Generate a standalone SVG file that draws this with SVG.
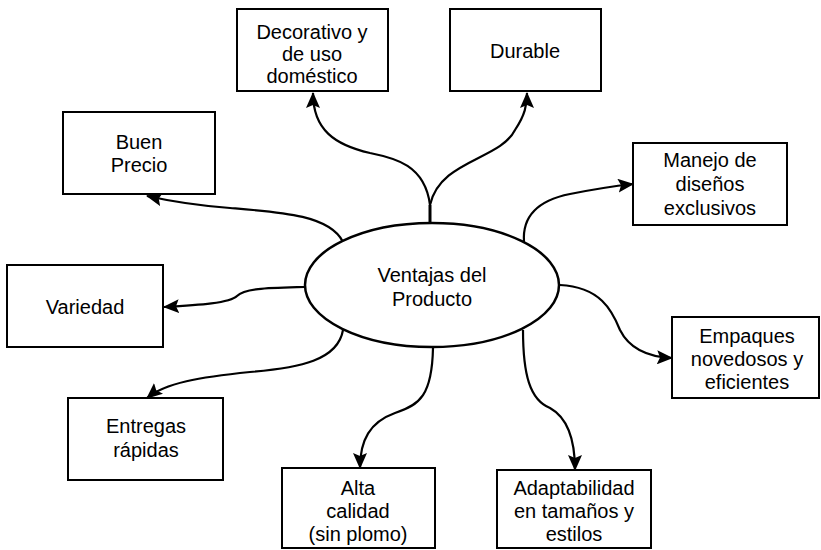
<svg xmlns="http://www.w3.org/2000/svg" width="821" height="550" viewBox="0 0 821 550">
<style>
.box{fill:#fff;stroke:#000;stroke-width:2}
.t{font-family:"Liberation Sans",Arial,sans-serif;font-size:20px;fill:#000;text-anchor:middle}
.c{fill:none;stroke:#000;stroke-width:2.2;marker-end:url(#ah)}
</style>
<defs>
<marker id="ah" markerUnits="userSpaceOnUse" markerWidth="16" markerHeight="14" viewBox="0 0 16 14" refX="15" refY="7" orient="auto">
<path d="M0,0 L16,7 L0,14 L3,7 Z" fill="#000"/>
</marker>
</defs>
<rect width="821" height="550" fill="#fff"/>
<g id="connectors">
<path class="c" d="M430,205 C425,165 395,158 370,153 C335,145 313,130 313,93"/>
<path class="c" d="M430,205 C440,160 500,160 515,130 C525,115 527,105 527,93"/>
<path d="M430,205 L430,223" fill="none" stroke="#000" stroke-width="3"/>
<path class="c" d="M343,242 C330,215 280,212 230,208 C190,205 165,200 147,196"/>
<path class="c" d="M305,287 C270,288 245,288 237,296 C230,303 200,305 164,307"/>
<path class="c" d="M524,242 C522,215 540,200 570,194 C595,189 615,186 633,184"/>
<path class="c" d="M560,285 C600,287 612,310 620,330 C630,350 650,357 672,358"/>
<path class="c" d="M343,330 C338,360 300,368 250,372 C200,377 165,383 147,398"/>
<path class="c" d="M433,348 C432,395 420,405 395,413 C370,422 360,440 360,468"/>
<path class="c" d="M523,330 C523,375 530,400 550,408 C568,418 575,440 575,470"/>
</g>
<g id="center">
<ellipse cx="432" cy="285" rx="127" ry="62" fill="#fff" stroke="#000" stroke-width="2.5"/>
<text class="t" x="432" y="282">Ventajas del</text>
<text class="t" x="432" y="306">Producto</text>
</g>
<g id="decorativo">
<rect class="box" x="237" y="9" width="151" height="82"/>
<text class="t" x="312" y="39">Decorativo y</text>
<text class="t" x="312" y="61">de uso</text>
<text class="t" x="312" y="83">doméstico</text>
</g>
<g id="durable">
<rect class="box" x="450" y="9" width="151" height="82"/>
<text class="t" x="525" y="58">Durable</text>
</g>
<g id="buenprecio">
<rect class="box" x="63" y="112" width="152" height="82"/>
<text class="t" x="139" y="149">Buen</text>
<text class="t" x="139" y="172">Precio</text>
</g>
<g id="manejo">
<rect class="box" x="633" y="143" width="154" height="82"/>
<text class="t" x="710" y="167">Manejo de</text>
<text class="t" x="710" y="191">diseños</text>
<text class="t" x="710" y="215">exclusivos</text>
</g>
<g id="variedad">
<rect class="box" x="7" y="265" width="156" height="82"/>
<text class="t" x="85" y="314">Variedad</text>
</g>
<g id="empaques">
<rect class="box" x="672" y="317" width="147" height="81"/>
<text class="t" x="747" y="343">Empaques</text>
<text class="t" x="747" y="366">novedosos y</text>
<text class="t" x="747" y="389">eficientes</text>
</g>
<g id="entregas">
<rect class="box" x="68" y="398" width="155" height="82"/>
<text class="t" x="146" y="433">Entregas</text>
<text class="t" x="146" y="457">rápidas</text>
</g>
<g id="alta">
<rect class="box" x="282" y="468" width="153" height="80"/>
<text class="t" x="358" y="495">Alta</text>
<text class="t" x="358" y="518">calidad</text>
<text class="t" x="358" y="541">(sin plomo)</text>
</g>
<g id="adaptabilidad">
<rect class="box" x="497" y="470" width="154" height="78"/>
<text class="t" x="574" y="495">Adaptabilidad</text>
<text class="t" x="574" y="518">en tamaños y</text>
<text class="t" x="574" y="541">estilos</text>
</g>
</svg>
